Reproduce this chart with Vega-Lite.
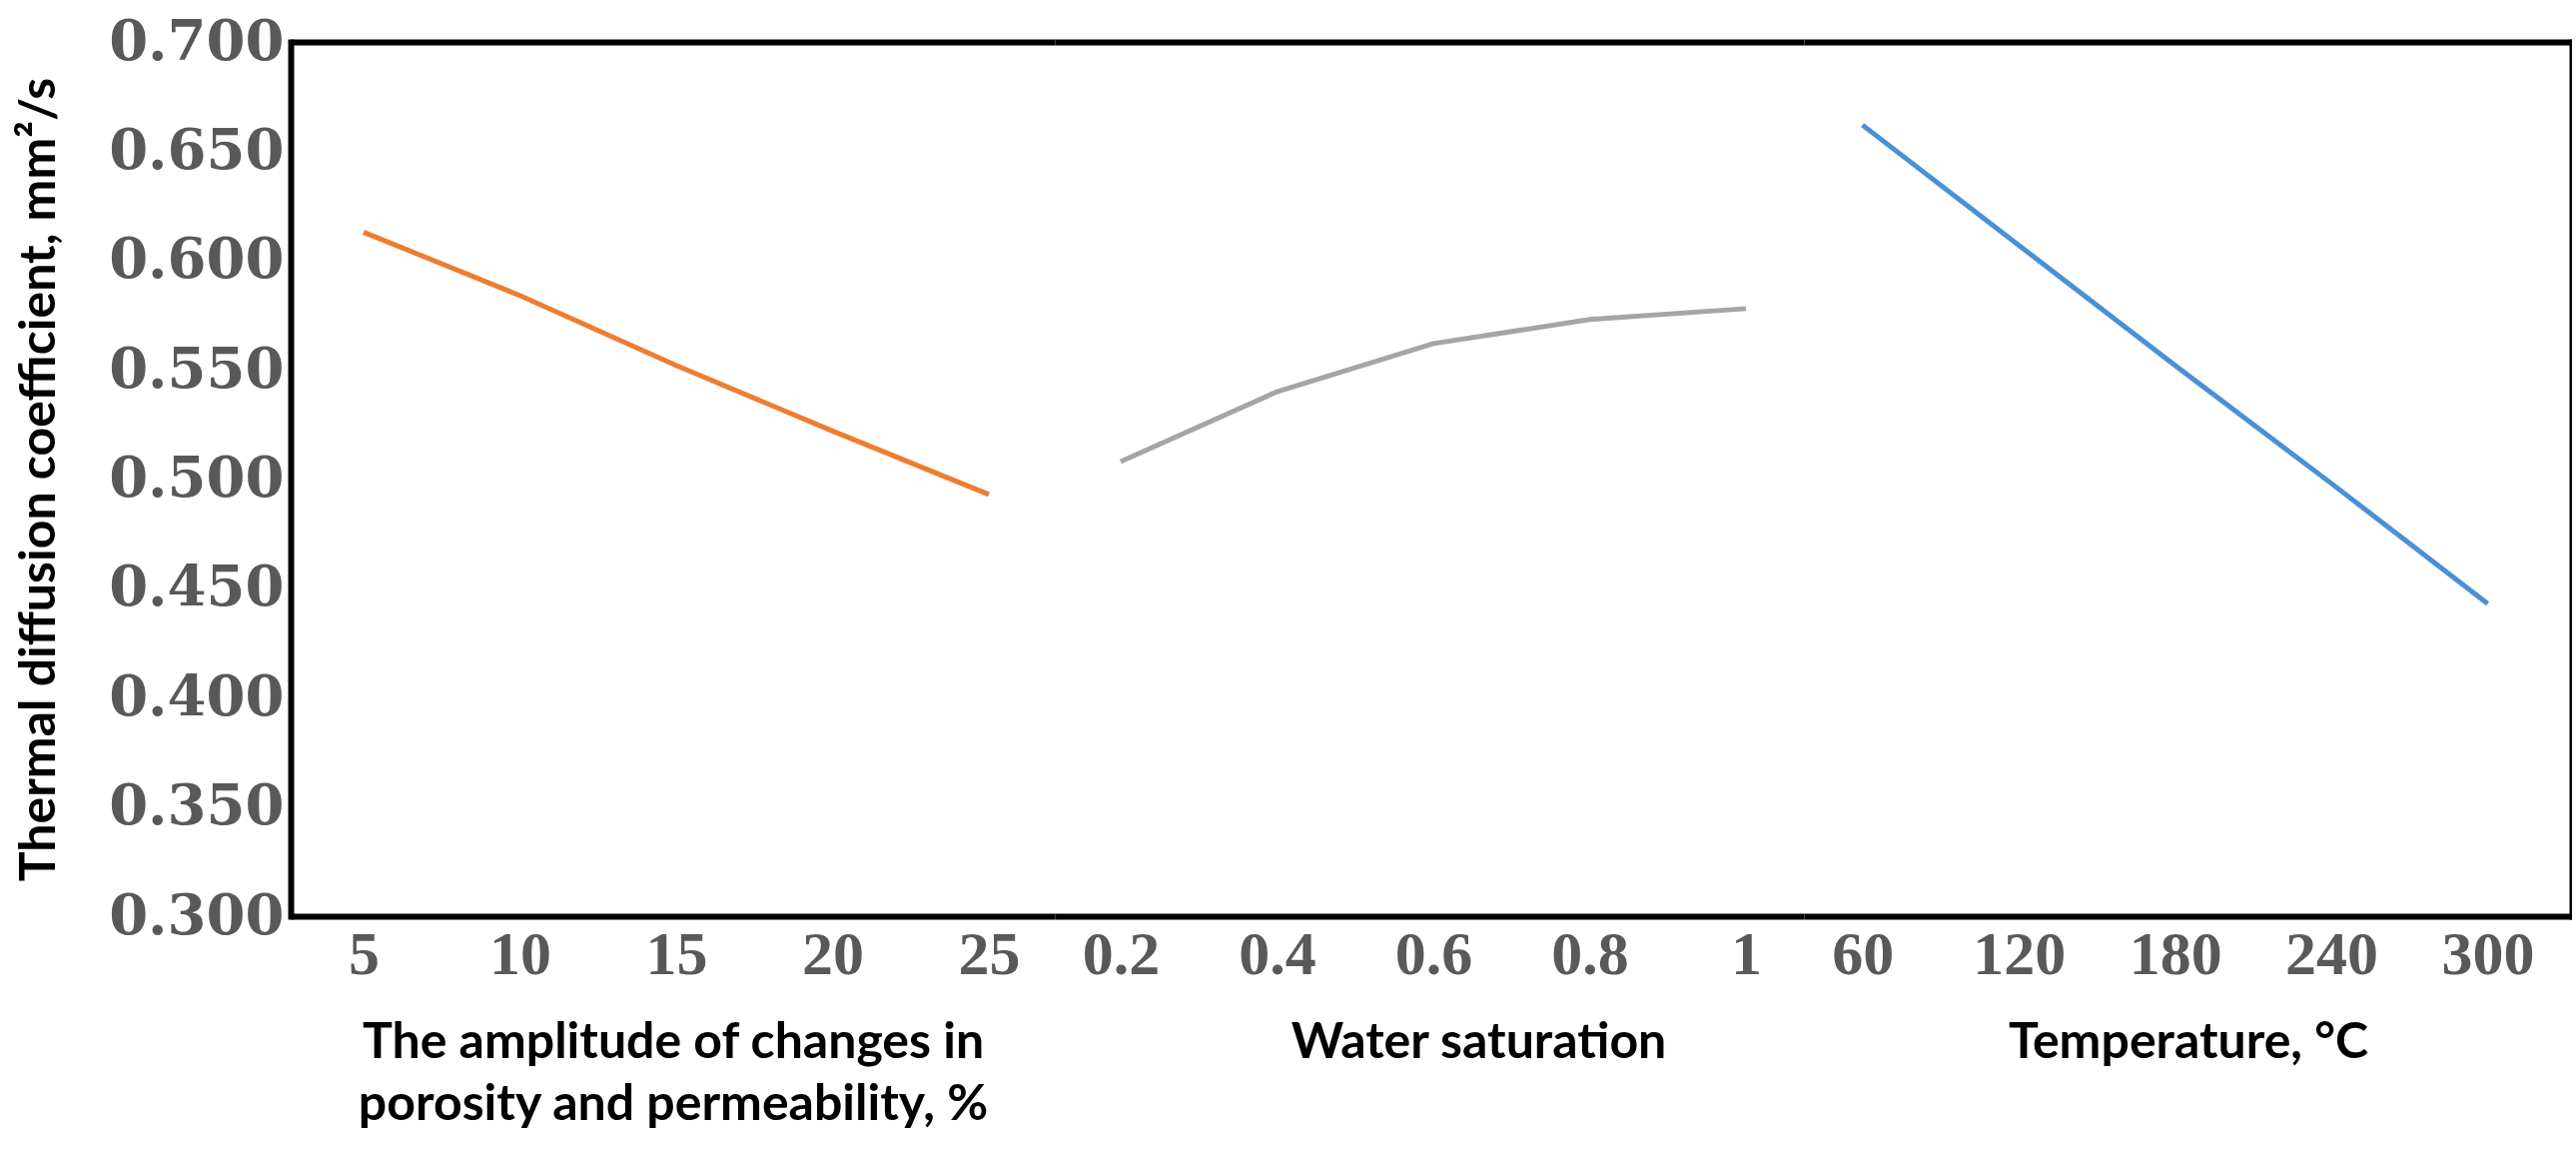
{
  "$schema": "https://vega.github.io/schema/vega-lite/v6.json",
  "background": "white",
  "padding": {"left": 14, "top": 14, "right": 0, "bottom": 0},
  "autosize": {"type": "pad"},
  "spacing": 0,
  "datasets": {
    "porosity": [
      {"x": 5, "coef": 0.613},
      {"x": 10, "coef": 0.584},
      {"x": 15, "coef": 0.552},
      {"x": 20, "coef": 0.522},
      {"x": 25, "coef": 0.493}
    ],
    "water": [
      {"x": 0.2, "coef": 0.508},
      {"x": 0.4, "coef": 0.540},
      {"x": 0.6, "coef": 0.562},
      {"x": 0.8, "coef": 0.573},
      {"x": 1, "coef": 0.578}
    ],
    "temperature": [
      {"x": 60, "coef": 0.662},
      {"x": 120, "coef": 0.607},
      {"x": 180, "coef": 0.552},
      {"x": 240, "coef": 0.498},
      {"x": 300, "coef": 0.443}
    ]
  },
  "config": {
    "view": {"stroke": null},
    "axis": {
      "domainColor": "#000000",
      "domainWidth": 6,
      "domainCap": "butt",
      "ticks": false,
      "grid": false,
      "labelColor": "#595959",
      "labelFontWeight": "bold",
      "titleColor": "#000000",
      "titleFont": "Lato",
      "titleFontWeight": "bold"
    },
    "axisX": {
      "labelFont": "Liberation Serif",
      "labelFontSize": 62,
      "labelAngle": 0,
      "labelPadding": 8,
      "titleFontSize": 50,
      "titlePadding": 32,
      "titleLineHeight": 62
    }
  },
  "hconcat": [
    {
      "width": 765,
      "height": 875,
      "data": {"name": "porosity"},
      "layer": [
        {
          "mark": {"type": "line", "color": "#ED7D31", "strokeWidth": 5},
          "encoding": {
            "x": {"field": "x", "type": "ordinal", "scale": {"type": "point", "padding": 0.444, "align": 0.525},
              "axis": {"orient": "bottom", "title": ["The amplitude of changes in", "porosity and permeability, %"]}},
            "y": {"field": "coef", "type": "quantitative", "scale": {"domain": [0.3, 0.7], "nice": false, "zero": false},
              "axis": {"orient": "left", "values": [0.3, 0.35, 0.4, 0.45, 0.5, 0.55, 0.6, 0.65, 0.7], "format": ".3f",
                "domainCap": "square",
                "labelFont": "DejaVu Serif", "labelFontSize": 56, "labelPadding": 7, "labelFlush": false, "labelOverlap": false,
                "title": "Thermal diffusion coefficient, mm²/s", "titleFontSize": 50, "titlePadding": 44}}
          }
        },
        {
          "mark": {"type": "line", "opacity": 0},
          "encoding": {
            "x": {"field": "x", "type": "ordinal", "scale": {"type": "point", "padding": 0.444, "align": 0.525},
              "axis": {"orient": "top", "labels": false, "title": null}},
            "y": {"field": "coef", "type": "quantitative", "scale": {"domain": [0.3, 0.7], "nice": false, "zero": false}, "axis": null}
          }
        }
      ],
      "resolve": {"axis": {"x": "independent", "y": "independent"}}
    },
    {
      "width": 750,
      "height": 875,
      "data": {"name": "water"},
      "layer": [
        {
          "mark": {"type": "line", "color": "#A5A5A5", "strokeWidth": 5},
          "encoding": {
            "x": {"field": "x", "type": "ordinal", "scale": {"type": "point", "padding": 0.396, "align": 0.532},
              "axis": {"orient": "bottom", "title": "Water saturation", "titleX": 424}},
            "y": {"field": "coef", "type": "quantitative", "scale": {"domain": [0.3, 0.7], "nice": false, "zero": false}, "axis": null}
          }
        },
        {
          "mark": {"type": "line", "opacity": 0},
          "encoding": {
            "x": {"field": "x", "type": "ordinal", "scale": {"type": "point", "padding": 0.396, "align": 0.532},
              "axis": {"orient": "top", "labels": false, "title": null}},
            "y": {"field": "coef", "type": "quantitative", "scale": {"domain": [0.3, 0.7], "nice": false, "zero": false}, "axis": null}
          }
        }
      ],
      "resolve": {"axis": {"x": "independent", "y": "independent"}}
    },
    {
      "width": 769,
      "height": 875,
      "data": {"name": "temperature"},
      "layer": [
        {
          "mark": {"type": "line", "color": "#4A90D6", "strokeWidth": 5},
          "encoding": {
            "x": {"field": "x", "type": "ordinal", "scale": {"type": "point", "padding": 0.457, "align": 0.41},
              "axis": {"orient": "bottom", "title": "Temperature, °C"}},
            "y": {"field": "coef", "type": "quantitative", "scale": {"domain": [0.3, 0.7], "nice": false, "zero": false}, "axis": null}
          }
        },
        {
          "mark": {"type": "line", "opacity": 0},
          "encoding": {
            "x": {"field": "x", "type": "ordinal", "scale": {"type": "point", "padding": 0.457, "align": 0.41},
              "axis": {"orient": "top", "labels": false, "title": null}},
            "y": {"field": "coef", "type": "quantitative", "scale": {"domain": [0.3, 0.7], "nice": false, "zero": false},
              "axis": {"orient": "right", "labels": false, "title": null, "domainCap": "square"}}
          }
        }
      ],
      "resolve": {"axis": {"x": "independent", "y": "independent"}}
    }
  ]
}
